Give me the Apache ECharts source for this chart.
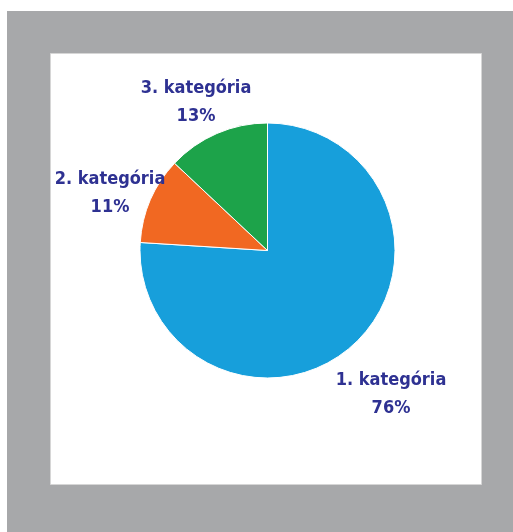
<!DOCTYPE html>
<html>
<head>
<meta charset="utf-8">
<script src="https://cdn.jsdelivr.net/npm/echarts@6/dist/echarts.min.js"></script>
<style>
html,body{margin:0;padding:0;background:#fff;}
#chart{width:513px;height:532px;}
</style>
</head>
<body>
<div id="chart"></div>
<script>
var categories = ['1. kategória', '2. kategória', '3. kategória'];
var values = [76, 11, 13];
var colors = ['#179fdb', '#f16822', '#1da34a'];

// label block centres relative to the pie centre (layout only)
var labelOffsets = [[123.5, 143.5], [-157.5, -57], [-71.5, -148]];
var pieCenter = [267.5, 250.5];

var chart = echarts.init(document.getElementById('chart'), null, {renderer: 'canvas'});
chart.setOption({
  animation: false,
  backgroundColor: '#ffffff',
  graphic: [
    {type: 'rect', z: -10, shape: {x: 7, y: 11, width: 506, height: 521}, style: {fill: '#a7a8aa'}},
    {type: 'rect', z: -9, shape: {x: 50.5, y: 53.5, width: 431, height: 431}, style: {fill: '#ffffff', stroke: '#d6d6d6', lineWidth: 1}}
  ],
  series: [{
    type: 'pie',
    center: pieCenter,
    radius: 127.5,
    startAngle: 90,
    clockwise: true,
    avoidLabelOverlap: false,
    itemStyle: {borderColor: '#ffffff', borderWidth: 1},
    label: {
      show: true,
      position: 'outside',
      formatter: '{b}\n{c}%',
      fontFamily: '"DejaVu Sans Condensed", "DejaVu Sans", sans-serif',
      fontWeight: 'bold',
      fontSize: 18,
      lineHeight: 28,
      color: '#2e3192',
      align: 'center'
    },
    labelLine: {show: false},
    labelLayout: function (p) {
      var o = labelOffsets[p.dataIndex];
      return {
        x: pieCenter[0] + o[0],
        y: pieCenter[1] + o[1],
        align: 'center',
        verticalAlign: 'middle'
      };
    },
    emphasis: {disabled: true},
    data: categories.map(function (c, i) {
      return {name: c, value: values[i], itemStyle: {color: colors[i]}};
    })
  }]
});
</script>
</body>
</html>
